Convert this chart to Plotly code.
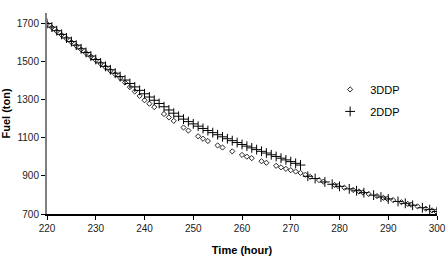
import plotly.graph_objects as go

# 2DDP series (time in hours, fuel in ton)
t_2ddp = list(range(220, 273)) + [273.5, 275, 277, 278.5, 280, 282, 283.5, 285, 287,
                                   288.5, 290, 292, 293.5, 295, 297, 298.5, 300]
fuel_2ddp = [1700, 1681, 1662, 1643, 1624, 1605, 1586, 1567, 1548, 1529,
             1511, 1493, 1475, 1457, 1439, 1421, 1403, 1385, 1367, 1349,
             1331, 1314, 1297, 1280, 1263, 1246, 1229, 1213, 1198, 1185,
             1173, 1161, 1149, 1138, 1127, 1116, 1105, 1095, 1085, 1075,
             1065, 1056, 1047, 1038, 1029, 1020, 1011, 1002, 993, 984,
             975, 966, 957,
             898, 886, 868, 856, 845, 832, 822, 812, 799,
             789, 779, 766, 756, 746, 733, 723, 713]

# 3DDP series
t_3ddp = [220, 221, 222, 223, 224, 225, 226, 227, 228, 229, 230, 231, 232, 233, 234,
          235, 236, 237, 238, 239, 240, 241, 242, 244, 245, 246, 248, 249, 251, 252,
          253, 255, 256, 258, 260, 261, 262, 264, 265, 267, 268, 269, 270, 271, 272,
          273, 274, 275.8, 276.7, 279, 279.7, 281, 282.8, 284, 284.8, 286, 287.7,
          289, 289.8, 291, 292.7, 294, 294.7, 296, 297.7, 299, 299.8]
fuel_3ddp = [1698, 1679, 1659, 1640, 1621, 1602, 1583, 1564, 1545, 1526, 1507, 1489, 1470, 1452, 1433,
             1414, 1390, 1366, 1343, 1320, 1297, 1279, 1261, 1225, 1207, 1189, 1154, 1138, 1108, 1095,
             1083, 1060, 1049, 1029, 1010, 1001, 993, 977, 969, 953, 945, 937, 930, 923, 916,
             906, 895, 878, 870, 852, 847, 838, 826, 818, 813, 805, 794,
             785, 780, 773, 762, 753, 749, 740, 728, 719, 714]

x_ticks = [220, 230, 240, 250, 260, 270, 280, 290, 300]
y_ticks = [700, 900, 1100, 1300, 1500, 1700]

FONT = "Liberation Sans, Arial, sans-serif"

fig = go.Figure()
fig.add_trace(go.Scatter(
    x=t_3ddp, y=fuel_3ddp, mode="markers", name="3DDP",
    marker=dict(symbol="diamond-open", size=4, color="#222222", line=dict(width=1, color="#222222")),
    legendgroup="a"))
fig.add_trace(go.Scatter(
    x=t_2ddp, y=fuel_2ddp, mode="markers", name="2DDP",
    marker=dict(symbol="cross-thin-open", size=7, color="#000000", line=dict(width=1, color="#000000")),
    legendgroup="b"))

fig.update_layout(
    template="none",
    width=447, height=258,
    margin=dict(l=47, r=10, t=13, b=44, pad=0),
    paper_bgcolor="white", plot_bgcolor="white",
    font=dict(family=FONT, size=10, color="#000000"),
    showlegend=True,
    legend=dict(x=0.726, y=0.565, xanchor="left", yanchor="middle",
                font=dict(family=FONT, size=11, color="#000000"),
                bgcolor="rgba(0,0,0,0)", borderwidth=0, tracegroupgap=3, itemwidth=30),
    xaxis=dict(range=[220, 300], tickvals=x_ticks, ticktext=[str(v) for v in x_ticks],
               automargin=False,
               showgrid=False, zeroline=False, showline=True, linecolor="#000000", linewidth=1.5,
               ticks="outside", ticklen=4, tickcolor="#000000", tickwidth=1,
               tickfont=dict(family=FONT, size=10, color="#222222"),
               title=dict(text="<b>Time (hour)</b>", font=dict(family=FONT, size=11, color="#000000"),
                          standoff=14)),
    yaxis=dict(range=[700, 1755], tickvals=y_ticks, ticktext=[str(v) for v in y_ticks],
               automargin=False,
               showgrid=False, zeroline=False, showline=True, linecolor="#808080", linewidth=2,
               ticks="outside", ticklen=4, tickcolor="#000000", tickwidth=1,
               tickfont=dict(family=FONT, size=10, color="#222222"),
               title=dict(text="<b>Fuel (ton)</b>", font=dict(family=FONT, size=11, color="#000000"),
                          standoff=12)),
)

fig.write_html("out.html")
